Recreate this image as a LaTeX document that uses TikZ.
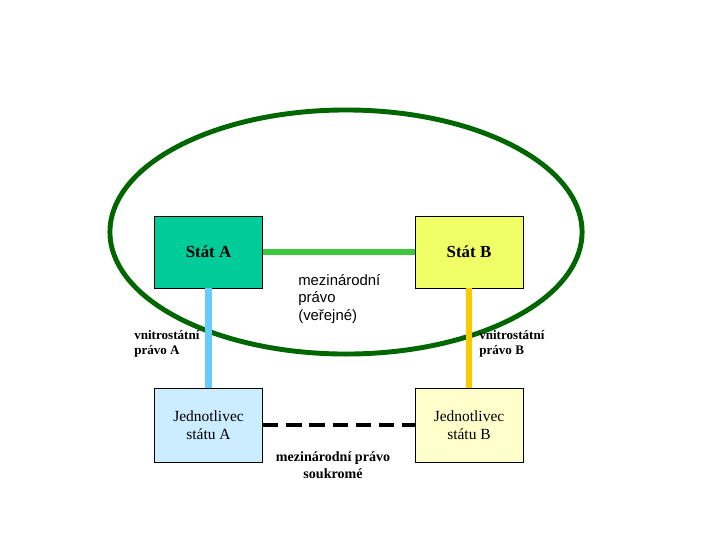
\documentclass[tikz,border=0pt]{standalone}
\usepackage{fontspec}
\setmainfont{Liberation Serif}
\newfontfamily\labelsans{Liberation Sans}
\usetikzlibrary{positioning}
\definecolor{statA}{RGB}{0,204,153}
\definecolor{statB}{RGB}{240,255,102}
\definecolor{osobaA}{RGB}{204,236,255}
\definecolor{osobaB}{RGB}{255,255,204}
\definecolor{ovalgreen}{RGB}{0,102,0}
\definecolor{linkgreen}{RGB}{60,200,60}
\definecolor{linkblue}{RGB}{102,204,255}
\definecolor{linkyellow}{RGB}{250,204,0}
\tikzset{
  statbox/.style   = {draw,line width=0.6pt,minimum width=2.7cm,minimum height=1.8cm,
                      inner sep=0pt,font=\bfseries\fontsize{12}{14}\selectfont},
  osobabox/.style  = {draw,line width=0.6pt,minimum width=2.7cm,minimum height=1.85cm,
                      inner sep=0pt,align=center,font=\fontsize{11}{13}\selectfont},
  lawlabel/.style  = {inner sep=0pt,align=left,font=\bfseries\fontsize{9.3}{11}\selectfont},
  link/.style      = {line width=4.5pt}
}
\begin{document}
\begin{tikzpicture}[x=0.025cm,y=-0.025cm]
    \useasboundingbox (0,0) rectangle (720,540);

    % the oval round both states
    \draw[ovalgreen,line width=3.5pt] (346,232) ellipse [x radius=5.9cm,y radius=3.05cm];

    % states
    \node[statbox,fill=statA] (statA) at (208.5,252) {Stát A};
    \node[statbox,fill=statB] (statB) at (469,252) {Stát B};

    % individuals
    \node[osobabox,fill=osobaA] (osobaA) at (208.5,425) {Jednotlivec\\státu A};
    \node[osobabox,fill=osobaB] (osobaB) at (469,425) {Jednotlivec\\státu B};

    % links
    \draw[link,linkgreen] (statA) -- (statB);
    \draw[link,linkblue] (statA) -- (osobaA);
    \draw[link,linkyellow] (statB) -- (osobaB);
    \draw[link,dash pattern=on 11pt off 5.5pt,line width=3pt] (osobaA) -- (osobaB);

    % labels
    \node[inner sep=0pt,align=left,anchor=north west,
          font=\labelsans\fontsize{10.6}{12.4}\selectfont] (verejne) at (298,274)
      {mezinárodní\\právo\\(veřejné)};
    \node[lawlabel,anchor=north west] (vnitroA) at (134,330) {vnitrostátní\\právo A};
    \node[lawlabel,anchor=north west] (vnitroB) at (479,330) {vnitrostátní\\právo B};
    \node[anchor=north,align=center,inner sep=0pt,
          font=\bfseries\fontsize{10}{12.4}\selectfont] (soukrome) at (333,451)
      {mezinárodní právo\\soukromé};
\end{tikzpicture}
\end{document}
